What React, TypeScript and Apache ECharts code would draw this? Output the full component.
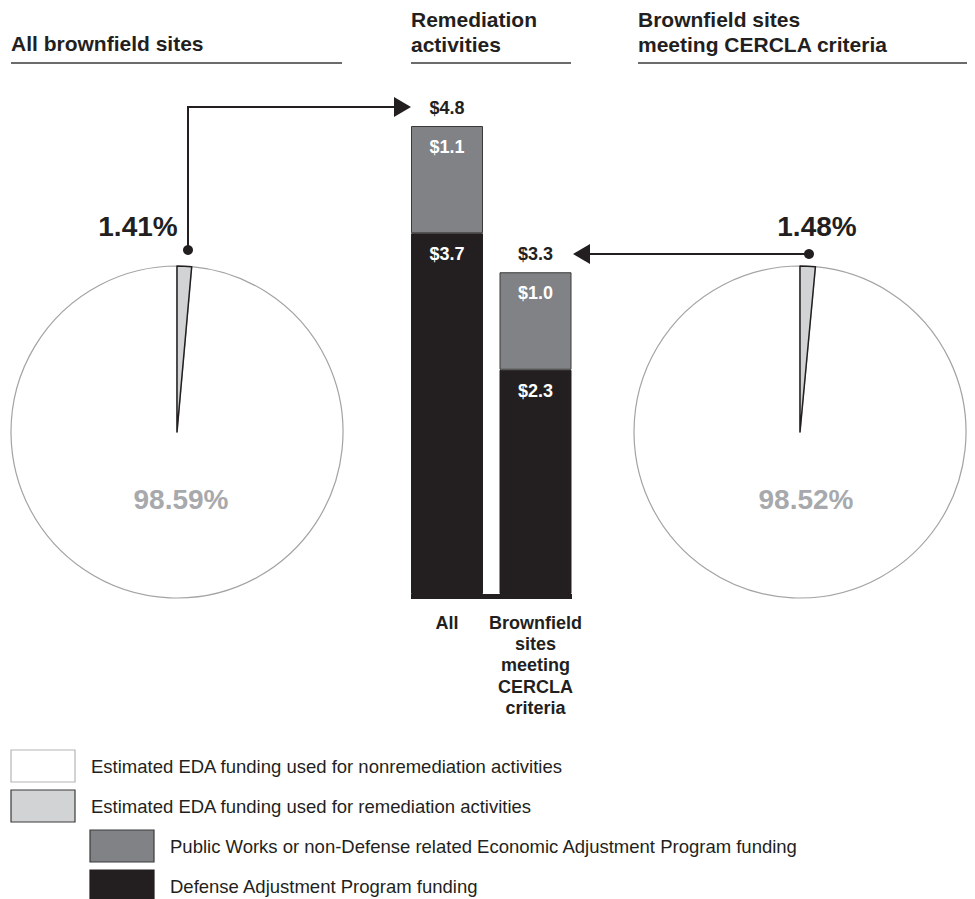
import React, { useEffect, useRef } from "react";
import * as echarts from "echarts";

const FONT = '"Liberation Sans", Arial, Helvetica, sans-serif';

// Bar chart data (billions of dollars)
const barCategories = ["All", "Brownfield\nsites\nmeeting\nCERCLA\ncriteria"];
const defenseFunding = [3.7, 2.3];
const publicWorksFunding = [1.1, 1.0];

// Pie data (percent of EDA funding)
const allSitesShares = [98.59, 1.41]; // nonremediation, remediation
const cerclaShares = [98.52, 1.48];

const titles = [
  { lines: ["All brownfield sites"], x: 11, x2: 342 },
  { lines: ["Remediation", "activities"], x: 411, x2: 571 },
  { lines: ["Brownfield sites", "meeting CERCLA criteria"], x: 638, x2: 967 },
];

const legendItems = [
  { label: "Estimated EDA funding used for nonremediation activities", fill: "#ffffff", stroke: "#b5b5b5", indent: 0 },
  { label: "Estimated EDA funding used for remediation activities", fill: "#d1d3d4", stroke: "#3a3a3a", indent: 0 },
  { label: "Public Works or non-Defense related Economic Adjustment Program funding", fill: "#808285", stroke: "#3a3a3a", indent: 1 },
  { label: "Defense Adjustment Program funding", fill: "#231f20", stroke: "#231f20", indent: 1 },
];

const C_BLACK = "#231f20";
const C_GRAY = "#808285";
const C_LIGHT = "#d1d3d4";
const C_PCT = "#a7a9ac";

export default function App() {
  const ref = useRef<HTMLDivElement>(null);

  useEffect(() => {
    if (!ref.current) return;
    const chart = echarts.init(ref.current, null, { renderer: "svg" });

    const totals = defenseFunding.map((v, i) => +(v + publicWorksFunding[i]).toFixed(1));

    const graphic: any[] = [];

    // Titles and underlines
    titles.forEach((t) => {
      t.lines.forEach((ln, i) => {
        graphic.push({
          type: "text",
          x: t.x,
          y: (t.lines.length === 1 ? 43 : 19 + i * 25),
          style: { text: ln, font: `bold 21px ${FONT}`, fill: C_BLACK, textAlign: "left", textVerticalAlign: "middle" },
        });
      });
      graphic.push({
        type: "line",
        shape: { x1: t.x, y1: 63, x2: t.x2, y2: 63 },
        style: { stroke: "#3a3a3a", lineWidth: 1.5 },
      });
    });

    // Pie percentage labels
    const pct = (v: number) => `${v.toFixed(2)}%`;
    graphic.push(
      { type: "text", x: 138, y: 226, style: { text: pct(allSitesShares[1]), font: `bold 28px ${FONT}`, fill: C_BLACK, textAlign: "center", textVerticalAlign: "middle" } },
      { type: "text", x: 181, y: 499, style: { text: pct(allSitesShares[0]), font: `bold 28px ${FONT}`, fill: C_PCT, textAlign: "center", textVerticalAlign: "middle" } },
      { type: "text", x: 817, y: 226, style: { text: pct(cerclaShares[1]), font: `bold 28px ${FONT}`, fill: C_BLACK, textAlign: "center", textVerticalAlign: "middle" } },
      { type: "text", x: 806, y: 499, style: { text: pct(cerclaShares[0]), font: `bold 28px ${FONT}`, fill: C_PCT, textAlign: "center", textVerticalAlign: "middle" } }
    );

    // Connector arrows
    graphic.push(
      { type: "polyline", shape: { points: [[188, 250], [188, 107], [396, 107]] }, style: { stroke: C_BLACK, lineWidth: 2, fill: null } },
      { type: "polygon", shape: { points: [[394, 97], [411, 107], [394, 117]] }, style: { fill: C_BLACK } },
      { type: "circle", shape: { cx: 188, cy: 250, r: 5 }, style: { fill: C_BLACK } },
      { type: "polyline", shape: { points: [[809, 254], [588, 254]] }, style: { stroke: C_BLACK, lineWidth: 2, fill: null } },
      { type: "polygon", shape: { points: [[590, 244], [573, 254], [590, 264]] }, style: { fill: C_BLACK } },
      { type: "circle", shape: { cx: 809, cy: 254, r: 5 }, style: { fill: C_BLACK } }
    );

    // Bar base strip
    graphic.push({ type: "rect", shape: { x: 411, y: 594, width: 161, height: 5 }, style: { fill: C_BLACK } });

    // Legend
    const legendTops = [750, 790, 830, 870];
    legendItems.forEach((it, i) => {
      const bx = it.indent ? 90 : 11;
      graphic.push({
        type: "rect",
        shape: { x: bx, y: legendTops[i], width: 64, height: 32 },
        style: { fill: it.fill, stroke: it.stroke, lineWidth: 1.2 },
      });
      graphic.push({
        type: "text",
        x: bx + 80,
        y: legendTops[i] + 16,
        style: { text: it.label, font: `18.5px ${FONT}`, fill: C_BLACK, textAlign: "left", textVerticalAlign: "middle" },
      });
    });

    graphic.forEach((g) => {
      g.z = 100;
      g.silent = true;
    });

    const pieSeries = (data: number[], cx: number) => ({
      type: "pie",
      center: [cx, 432],
      radius: 166,
      startAngle: 90,
      clockwise: false,
      silent: true,
      label: { show: false },
      labelLine: { show: false },
      emphasis: { disabled: true },
      data: [
        { value: data[0], name: "nonremediation", itemStyle: { color: "#ffffff", borderColor: "#a3a3a3", borderWidth: 1.2 } },
        { value: data[1], name: "remediation", itemStyle: { color: C_LIGHT, borderColor: C_BLACK, borderWidth: 1.5 } },
      ],
    });

    const barLabel = (color: string) => ({
      show: true,
      position: "insideTop",
      distance: 12,
      color,
      textBorderWidth: 0,
      textBorderColor: "transparent",
      fontFamily: FONT,
      fontWeight: "bold",
      fontSize: 18,
      formatter: (p: any) => `$${Number(p.value).toFixed(1)}`,
    });

    chart.setOption({
      animation: false,
      backgroundColor: "#ffffff",
      grid: { left: 402.75, top: 106.5, width: 177, height: 487.5, containLabel: false },
      xAxis: {
        type: "category",
        data: barCategories,
        axisLine: { show: false },
        axisTick: { show: false },
        axisLabel: {
          margin: 18,
          color: C_BLACK,
          fontFamily: FONT,
          fontWeight: "bold",
          fontSize: 18,
          lineHeight: 21.3,
          interval: 0,
        },
      },
      yAxis: { type: "value", min: 0, max: 5, show: false, splitLine: { show: false } },
      series: [
        {
          type: "bar",
          stack: "funding",
          barWidth: 72,
          data: defenseFunding,
          itemStyle: { color: C_BLACK, borderColor: C_BLACK, borderWidth: 1 },
          label: barLabel("#ffffff"),
          silent: true,
        },
        {
          type: "bar",
          stack: "funding",
          barWidth: 72,
          data: publicWorksFunding,
          itemStyle: { color: C_GRAY, borderColor: "#3a3a3a", borderWidth: 1 },
          label: barLabel("#ffffff"),
          silent: true,
        },
        {
          type: "scatter",
          data: totals,
          symbolSize: 0,
          silent: true,
          itemStyle: { opacity: 1, color: C_BLACK },
          label: {
            show: true,
            position: "top",
            distance: 9,
            color: C_BLACK,
            opacity: 1,
            fontFamily: FONT,
            fontWeight: "bold",
            fontSize: 18,
            formatter: (p: any) => `$${Number(p.value).toFixed(1)}`,
          },
        },
        pieSeries(allSitesShares, 177),
        pieSeries(cerclaShares, 800),
      ],
      graphic,
    });

    return () => chart.dispose();
  }, []);

  return (
    <div
      ref={ref}
      style={{ position: "absolute", left: 0, top: 0, width: 975, height: 899, background: "#fff" }}
    />
  );
}
